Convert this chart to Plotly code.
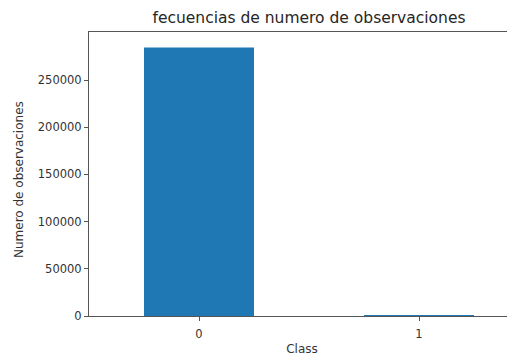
import plotly.graph_objects as go

categories = ["0", "1"]
counts = [284315, 492]
y_ticks = [0, 50000, 100000, 150000, 200000, 250000]

# the page body adds an 8px offset, so the figure is sized/positioned to compensate
OFF = 8
W, H = 515 - OFF, 356 - OFF
L, R, T, B = 89 - OFF, 0, 32 - OFF, H - (316 - OFF)

fig = go.Figure()
fig.add_trace(go.Bar(
    x=list(range(len(categories))),
    y=counts,
    width=0.5,
    marker=dict(color="#1f77b4", line=dict(width=0)),
))

font = "DejaVu Sans, sans-serif"
fig.update_layout(
    width=W, height=H,
    margin=dict(l=L, r=R, t=T, b=B, pad=0),
    plot_bgcolor="white", paper_bgcolor="white",
    showlegend=False,
    font=dict(family=font, color="#333333", size=11.5),
    title=dict(text="fecuencias de numero de observaciones", x=(309 - OFF) / W, xref="container",
               xanchor="center", y=1 - (18 - OFF) / H, yref="container", yanchor="middle",
               font=dict(size=15.5, family=font, color="#262626")),
    xaxis=dict(
        range=[-0.5, -0.5 + (W - L) / 220.0],
        tickmode="array", tickvals=list(range(len(categories))), ticktext=categories,
        showgrid=False, zeroline=False,
        showline=True, linecolor="#555555", linewidth=1, mirror=True,
        ticks="outside", ticklen=4, tickcolor="#555555",
        ticklabelstandoff=3,
        title=dict(text="Class", standoff=5, font=dict(size=12)),
    ),
    yaxis=dict(
        range=[0, 300847],
        tickmode="array", tickvals=y_ticks, ticktext=[str(v) for v in y_ticks],
        showgrid=False, zeroline=False,
        showline=True, linecolor="#555555", linewidth=1, mirror=False,
        ticks="outside", ticklen=4, tickcolor="#555555",
    ),
    annotations=[dict(text="Numero de observaciones", xref="paper", yref="paper",
                      x=(19 - 89) / (W - L), y=(316 - 180) / (316 - 32),
                      xanchor="center", yanchor="middle", textangle=-90,
                      showarrow=False, font=dict(size=12, family=font, color="#333333"))],
)

fig.write_html("out.html")
